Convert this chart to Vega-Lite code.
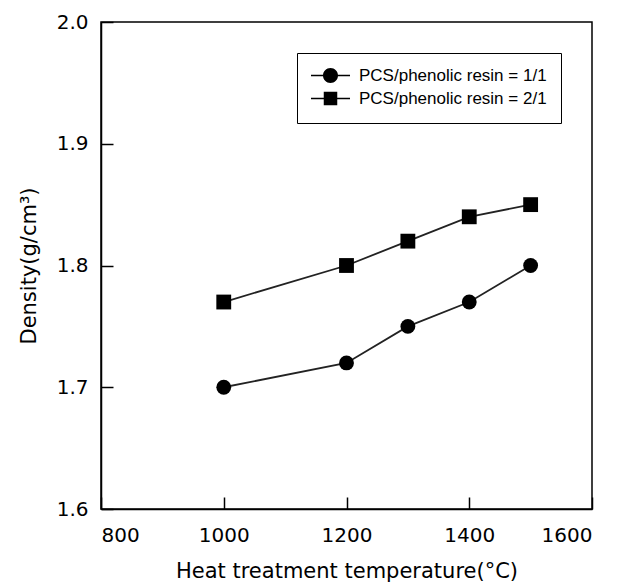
{
  "$schema": "https://vega.github.io/schema/vega-lite/v6.json",
  "width": 491,
  "height": 487,
  "autosize": {"type": "none"},
  "padding": {"left": 101, "top": 22, "right": 29, "bottom": 74},
  "background": "white",
  "config": {
    "font": "DejaVu Sans",
    "view": {"stroke": "black", "strokeWidth": 1.5},
    "axis": {
      "grid": false,
      "domainColor": "black",
      "domainWidth": 1.5,
      "tickColor": "black",
      "tickWidth": 1.5,
      "tickSize": -12,
      "labelColor": "black",
      "labelFont": "DejaVu Sans",
      "labelFontSize": 20,
      "titleColor": "black",
      "titleFont": "DejaVu Sans",
      "titleFontSize": 21,
      "titleFontWeight": "normal"
    }
  },
  "data": {
    "values": [
      {"temp": 1000, "density": 1.70, "series": "PCS/phenolic resin = 1/1"},
      {"temp": 1200, "density": 1.72, "series": "PCS/phenolic resin = 1/1"},
      {"temp": 1300, "density": 1.75, "series": "PCS/phenolic resin = 1/1"},
      {"temp": 1400, "density": 1.77, "series": "PCS/phenolic resin = 1/1"},
      {"temp": 1500, "density": 1.80, "series": "PCS/phenolic resin = 1/1"},
      {"temp": 1000, "density": 1.77, "series": "PCS/phenolic resin = 2/1"},
      {"temp": 1200, "density": 1.80, "series": "PCS/phenolic resin = 2/1"},
      {"temp": 1300, "density": 1.82, "series": "PCS/phenolic resin = 2/1"},
      {"temp": 1400, "density": 1.84, "series": "PCS/phenolic resin = 2/1"},
      {"temp": 1500, "density": 1.85, "series": "PCS/phenolic resin = 2/1"}
    ]
  },
  "encoding": {
    "x": {
      "field": "temp",
      "type": "quantitative",
      "scale": {"domain": [800, 1600], "nice": false, "zero": false},
      "axis": {"values": [800, 1000, 1200, 1400, 1600], "title": "Heat treatment temperature(°C)", "labelPadding": 28, "titlePadding": 15, "format": "d"}
    },
    "y": {
      "field": "density",
      "type": "quantitative",
      "scale": {"domain": [1.6, 2.0], "nice": false, "zero": false},
      "axis": {"values": [1.6, 1.7, 1.8, 1.9, 2.0], "format": ".1f", "title": "Density(g/cm³)", "labelPadding": 25, "titlePadding": 17}
    }
  },
  "layer": [
    {
      "mark": {"type": "line", "color": "#222222", "strokeWidth": 1.8},
      "encoding": {"detail": {"field": "series"}}
    },
    {
      "mark": {"type": "point", "filled": true, "opacity": 1, "color": "black", "size": 220},
      "encoding": {
        "shape": {
          "field": "series",
          "type": "nominal",
          "scale": {"domain": ["PCS/phenolic resin = 1/1", "PCS/phenolic resin = 2/1"], "range": ["circle", "square"]},
          "legend": null
        }
      }
    },
    {
      "transform": [{"filter": "datum.temp < 0"}],
      "mark": {"type": "point", "filled": true, "color": "black"},
      "encoding": {
        "shape": {
          "field": "series",
          "type": "nominal",
          "scale": {
            "domain": ["PCS/phenolic resin = 1/1", "PCS/phenolic resin = 2/1"],
            "range": ["M-2.6,-0.1H-0.9V0.1H-2.6ZM0.9,-0.1H2.6V0.1H0.9ZM1,0A1,1,0,1,1,-1,0A1,1,0,1,1,1,0Z", "M-2.6,-0.1H2.6V0.1H-2.6ZM-0.9,-0.9H0.9V0.9H-0.9Z"]
          },
          "legend": {
            "title": null,
            "orient": "none",
            "legendX": 196,
            "legendY": 31,
            "strokeColor": "black",
            "padding": 14,
            "labelFont": "Liberation Sans",
            "labelFontSize": 17,
            "labelColor": "black",
            "labelLimit": 400,
            "labelOffset": 20,
            "symbolOffset": 11,
            "symbolSize": 225,
            "symbolFillColor": "black",
            "symbolOpacity": 1,
            "rowPadding": 2
          }
        }
      }
    }
  ],
  "resolve": {"scale": {"shape": "independent"}, "legend": {"shape": "independent"}}
}
